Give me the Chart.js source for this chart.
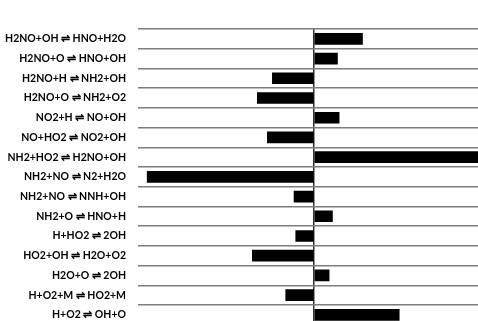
<!DOCTYPE html>
<html>
<head>
<meta charset="utf-8">
<script src="https://cdn.jsdelivr.net/npm/chart.js@4/dist/chart.umd.min.js"></script>
<style>
  html, body { margin: 0; padding: 0; background: #fff; overflow: hidden; }
  canvas { display: block; }
</style>
</head>
<body>
<canvas id="c" width="478" height="343"></canvas>
<script>
// reactions (top to bottom) and their normalized sensitivity
const reactions = [
  "H2NO+OH \u21CC HNO+H2O",
  "H2NO+O \u21CC HNO+OH",
  "H2NO+H \u21CC NH2+OH",
  "H2NO+O \u21CC NH2+O2",
  "NO2+H \u21CC NO+OH",
  "NO+HO2 \u21CC NO2+OH",
  "NH2+HO2 \u21CC H2NO+OH",
  "NH2+NO \u21CC N2+H2O",
  "NH2+NO \u21CC NNH+OH",
  "NH2+O \u21CC HNO+H",
  "H+HO2 \u21CC 2OH",
  "HO2+OH \u21CC H2O+O2",
  "H2O+O \u21CC 2OH",
  "H+O2+M \u21CC HO2+M",
  "H+O2 \u21CC OH+O"
];
const sensitivity = [0.29, 0.14, -0.25, -0.34, 0.15, -0.28, 1.0, -1.0, -0.12, 0.11, -0.11, -0.37, 0.09, -0.17, 0.51];
const axisRange = [-1.055, 0.982];

const chart = new Chart(document.getElementById("c"), {
  type: "bar",
  data: {
    labels: reactions,
    datasets: [{
      data: sensitivity,
      backgroundColor: "#000",
      borderWidth: 0,
      barThickness: 11
    }]
  },
  options: {
    indexAxis: "y",
    responsive: false,
    animation: false,
    layout: { padding: { top: 29, right: 0, bottom: 0, left: 0 } },
    plugins: { legend: { display: false }, tooltip: { enabled: false } },
    scales: {
      x: {
        min: axisRange[0],
        max: axisRange[1],
        afterBuildTicks: (scale) => { scale.ticks = [{ value: 0 }]; },
        afterFit: (scale) => { scale.height = 0; },
        ticks: { display: false },
        border: { display: false },
        grid: { color: "#333", lineWidth: 1.5, drawTicks: false }
      },
      y: {
        afterFit: (scale) => { scale.width = 138; },
        border: { display: false },
        grid: { color: "#7d7d7d", lineWidth: 1.5, drawTicks: false, offset: true },
        ticks: {
          color: "#000",
          padding: 12,
          font: { family: "Lato", weight: "bold", size: 10.5 }
        }
      }
    }
  }
});
</script>
</body>
</html>
